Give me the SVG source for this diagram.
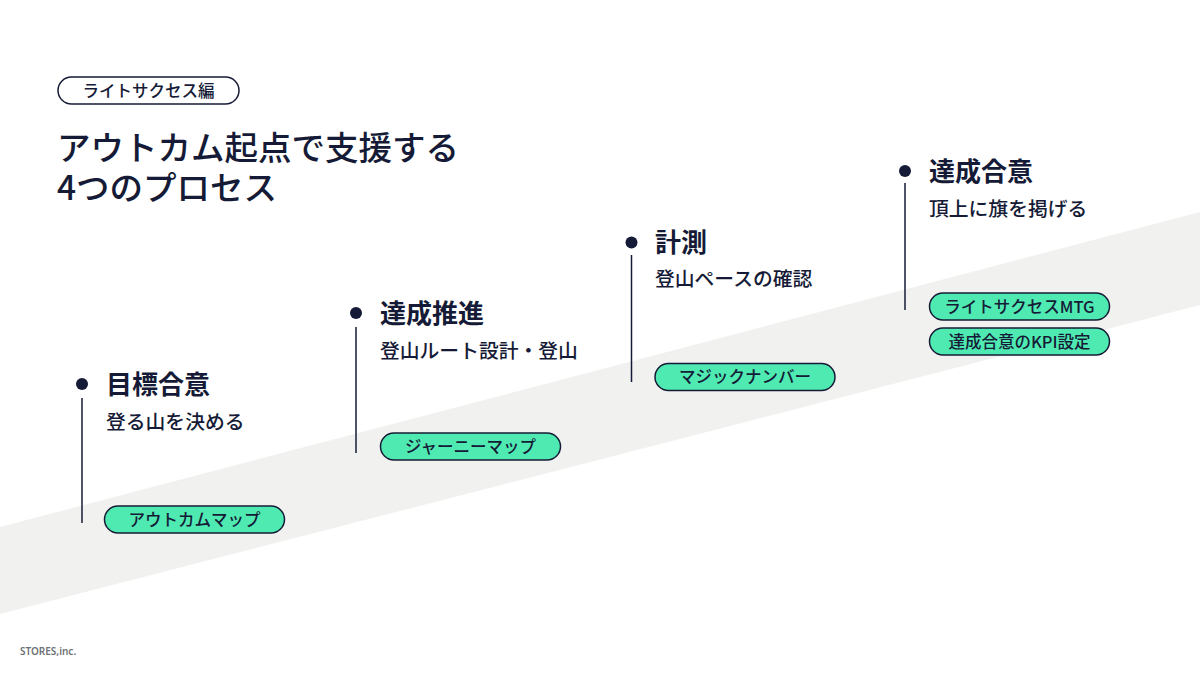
<svg xmlns="http://www.w3.org/2000/svg" width="1200" height="675" viewBox="0 0 1200 675">
<style>
text{font-family:"Noto Sans CJK JP","Noto Sans",sans-serif;fill:#151b36}
.tag{font-size:16.5px;font-weight:500}
.h1{font-size:33.5px;font-weight:500}
.t{font-size:26px;font-weight:700}
.s{font-size:19.8px;font-weight:500}
.p{font-size:16.5px;font-weight:500;text-anchor:middle}
.pill{fill:#4feab2;stroke:#151b36;stroke-width:1.5}
.dot{fill:#151b36}
.ln{stroke:#151b36;stroke-width:1.5}
.foot{font-family:"Noto Sans","Liberation Sans",sans-serif;font-size:10px;font-weight:600;fill:#6d7275}
</style>
<rect width="1200" height="675" fill="#ffffff"/>
<polygon points="0,527 1200,212 1200,305 0,614" fill="#f1f1ef"/>
<g id="header">
<rect x="58" y="77" width="181" height="27" rx="13.5" fill="#fff" stroke="#151b36" stroke-width="1.5"/>
<text class="tag" x="148.5" y="96.5" text-anchor="middle">ライトサクセス編</text>
<text class="h1" x="57" y="160"><tspan x="57" y="160">アウトカム起点で支援する</tspan><tspan x="57" y="200">4つのプロセス</tspan></text>
</g>
<g id="connectors">
<line class="ln" x1="82" y1="398" x2="82" y2="523"/>
<line class="ln" x1="356" y1="327" x2="356" y2="453"/>
<line class="ln" x1="631.5" y1="255" x2="631.5" y2="382"/>
<line class="ln" x1="905" y1="183" x2="905" y2="310"/>
</g>
<g id="step1">
<circle class="dot" cx="82" cy="384" r="6"/>
<text class="t" x="106" y="393.5">目標合意</text>
<text class="s" x="106" y="429">登る山を決める</text>
<rect class="pill" x="104.5" y="506" width="180" height="27" rx="13.5"/>
<text class="p" x="194.5" y="525.5">アウトカムマップ</text>
</g>
<g id="step2">
<circle class="dot" cx="356" cy="313" r="6"/>
<text class="t" x="380" y="322.5">達成推進</text>
<text class="s" x="380" y="358">登山ルート設計・登山</text>
<rect class="pill" x="380.5" y="433" width="180" height="27" rx="13.5"/>
<text class="p" x="470.5" y="452.5">ジャーニーマップ</text>
</g>
<g id="step3">
<circle class="dot" cx="631.5" cy="242.5" r="6"/>
<text class="t" x="655" y="251.5">計測</text>
<text class="s" x="655" y="286">登山ペースの確認</text>
<rect class="pill" x="655" y="363.5" width="180" height="27" rx="13.5"/>
<text class="p" x="745" y="383">マジックナンバー</text>
</g>
<g id="step4">
<circle class="dot" cx="905" cy="171" r="6"/>
<text class="t" x="929" y="180.5">達成合意</text>
<text class="s" x="929" y="216">頂上に旗を掲げる</text>
<rect class="pill" x="929.5" y="293" width="180" height="27" rx="13.5"/>
<text class="p" x="1019.5" y="312.5">ライトサクセスMTG</text>
<rect class="pill" x="929.5" y="328" width="180" height="27" rx="13.5"/>
<text class="p" x="1019.5" y="347.5">達成合意のKPI設定</text>
</g>
<text class="foot" x="20" y="655">STORES,inc.</text>
</svg>
